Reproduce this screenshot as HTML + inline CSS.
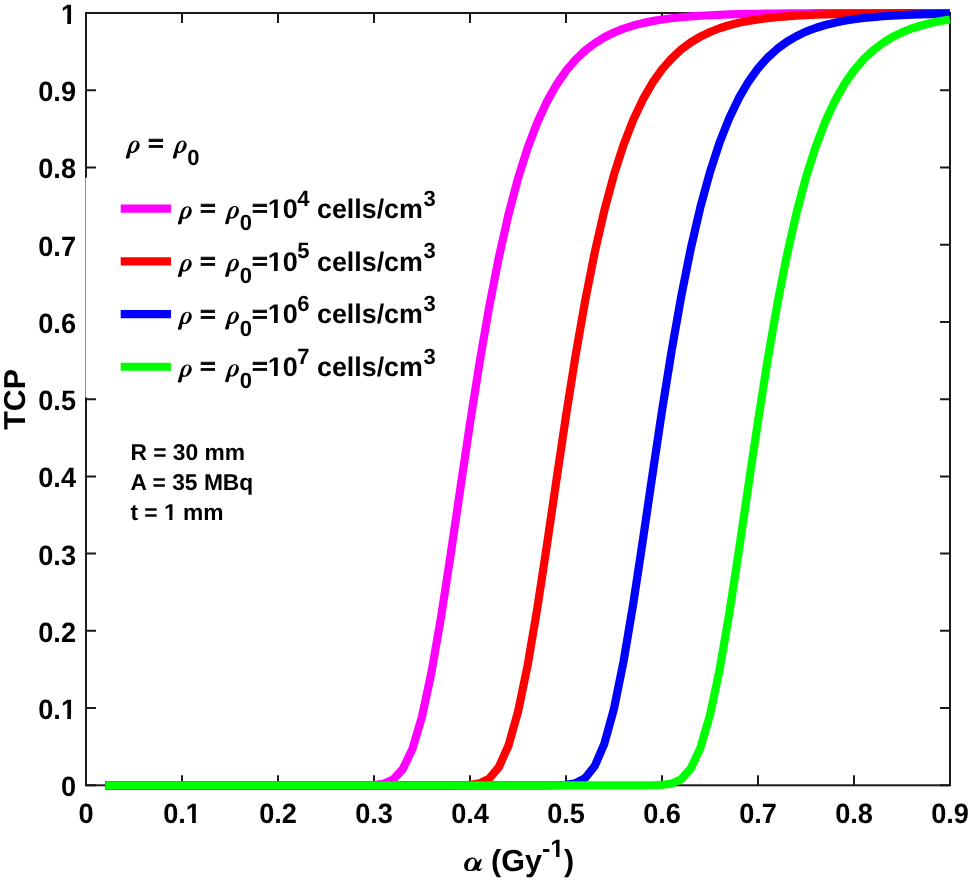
<!DOCTYPE html>
<html><head><meta charset="utf-8"><title>TCP vs alpha</title><style>
html,body{margin:0;padding:0;background:#fff;width:969px;height:882px;overflow:hidden}
svg{display:block;transform:translateZ(0)}
text{text-rendering:geometricPrecision;font-family:"Liberation Sans",sans-serif;font-weight:bold;fill:#000}
</style></head><body>
<svg width="969" height="882" viewBox="0 0 969 882">
<defs><path id="rho" d="M0.1,5.3 Q0.3,6.0 1.4,5.9 L3.0,5.6 Q3.5,5.4 3.7,4.7 L4.5,0.4 C5,0.3 5.8,0.2 6.7,0.2 C10,0.2 13.9,-3.5 13.9,-7.6 C13.9,-10.5 12,-12.2 9.4,-12.2 C6.5,-12.2 4.4,-10 3.5,-7.5 L0,4.6 Z M9.6,-11.3 C11,-11.3 11.3,-10 10.9,-8.4 C10.2,-5 8.5,-1.0 6.5,-1.0 C5.3,-1.0 4.9,-2.5 5.2,-3.6 C5.8,-6.5 7.5,-11.3 9.6,-11.3 Z"/></defs>
<g stroke="#1a1a1a" stroke-width="2" fill="none">
<rect x="86.0" y="13.0" width="864.0" height="772.3"/>
<path d="M86.00 785.3V775.3M86.00 13.0V23.0M182.00 785.3V775.3M182.00 13.0V23.0M278.00 785.3V775.3M278.00 13.0V23.0M374.00 785.3V775.3M374.00 13.0V23.0M470.00 785.3V775.3M470.00 13.0V23.0M566.00 785.3V775.3M566.00 13.0V23.0M662.00 785.3V775.3M662.00 13.0V23.0M758.00 785.3V775.3M758.00 13.0V23.0M854.00 785.3V775.3M854.00 13.0V23.0M950.00 785.3V775.3M950.00 13.0V23.0M86.0 785.30H96.0M950.0 785.30H940.0M86.0 708.07H96.0M950.0 708.07H940.0M86.0 630.84H96.0M950.0 630.84H940.0M86.0 553.61H96.0M950.0 553.61H940.0M86.0 476.38H96.0M950.0 476.38H940.0M86.0 399.15H96.0M950.0 399.15H940.0M86.0 321.92H96.0M950.0 321.92H940.0M86.0 244.69H96.0M950.0 244.69H940.0M86.0 167.46H96.0M950.0 167.46H940.0M86.0 90.23H96.0M950.0 90.23H940.0M86.0 13.00H96.0M950.0 13.00H940.0"/>
</g>
<text transform="translate(86.00 822.90) scale(0.97 1)" x="-7.79" y="0" font-size="28">0</text>
<text transform="translate(182.00 822.90) scale(0.97 1)" x="-19.46" y="0" font-size="28">0.1</text>
<text transform="translate(278.00 822.90) scale(0.97 1)" x="-19.46" y="0" font-size="28">0.2</text>
<text transform="translate(374.00 822.90) scale(0.97 1)" x="-19.46" y="0" font-size="28">0.3</text>
<text transform="translate(470.00 822.90) scale(0.97 1)" x="-19.46" y="0" font-size="28">0.4</text>
<text transform="translate(566.00 822.90) scale(0.97 1)" x="-19.46" y="0" font-size="28">0.5</text>
<text transform="translate(662.00 822.90) scale(0.97 1)" x="-19.46" y="0" font-size="28">0.6</text>
<text transform="translate(758.00 822.90) scale(0.97 1)" x="-19.46" y="0" font-size="28">0.7</text>
<text transform="translate(854.00 822.90) scale(0.97 1)" x="-19.46" y="0" font-size="28">0.8</text>
<text transform="translate(950.00 822.90) scale(0.97 1)" x="-19.46" y="0" font-size="28">0.9</text>
<text transform="translate(76.00 796.30) scale(0.97 1)" x="-15.57" y="0" font-size="28">0</text>
<text transform="translate(76.00 719.07) scale(0.97 1)" x="-38.92" y="0" font-size="28">0.1</text>
<text transform="translate(76.00 641.84) scale(0.97 1)" x="-38.92" y="0" font-size="28">0.2</text>
<text transform="translate(76.00 564.61) scale(0.97 1)" x="-38.92" y="0" font-size="28">0.3</text>
<text transform="translate(76.00 487.38) scale(0.97 1)" x="-38.92" y="0" font-size="28">0.4</text>
<text transform="translate(76.00 410.15) scale(0.97 1)" x="-38.92" y="0" font-size="28">0.5</text>
<text transform="translate(76.00 332.92) scale(0.97 1)" x="-38.92" y="0" font-size="28">0.6</text>
<text transform="translate(76.00 255.69) scale(0.97 1)" x="-38.92" y="0" font-size="28">0.7</text>
<text transform="translate(76.00 178.46) scale(0.97 1)" x="-38.92" y="0" font-size="28">0.8</text>
<text transform="translate(76.00 101.23) scale(0.97 1)" x="-38.92" y="0" font-size="28">0.9</text>
<text transform="translate(76.00 24.00) scale(0.97 1)" x="-15.57" y="0" font-size="28">1</text>
<rect x="85.5" y="177.7" width="358.5" height="219.8" fill="#fff"/>
<polyline points="105.20,785.30 114.80,785.30 124.40,785.30 134.00,785.30 143.60,785.30 153.20,785.30 162.80,785.30 172.40,785.30 182.00,785.30 191.60,785.30 201.20,785.30 210.80,785.30 220.40,785.30 230.00,785.30 239.60,785.30 249.20,785.30 258.80,785.30 268.40,785.30 278.00,785.30 287.60,785.30 297.20,785.30 306.80,785.30 316.40,785.30 326.00,785.30 335.60,785.30 345.20,785.30 354.80,785.30 364.40,785.26 374.00,784.99 383.60,783.71 393.20,779.48 402.80,769.10 412.40,748.97 422.00,716.58 431.60,671.63 441.20,616.12 450.80,553.61 460.40,488.17 470.00,423.51 479.60,362.46 489.20,306.83 498.80,257.56 508.40,214.89 518.00,178.56 527.60,148.06 537.20,122.73 546.80,101.87 556.40,84.80 566.00,70.90 575.60,59.63 585.20,50.51 594.80,43.16 604.40,37.24 614.00,32.48 623.60,28.65 633.20,25.58 642.80,23.11 652.40,21.13 662.00,19.54 671.60,18.26 681.20,17.24 690.80,16.41 700.40,15.75 710.00,15.22 719.60,14.79 729.20,14.44 738.80,14.16 748.40,13.94 758.00,13.76 767.60,13.62 777.20,13.50 786.80,13.40 796.40,13.33 806.00,13.26 815.60,13.21 825.20,13.17 834.80,13.14 844.40,13.12 854.00,13.09 863.60,13.08 873.20,13.06 882.80,13.05 892.40,13.04 902.00,13.03 911.60,13.03 921.20,13.02 930.80,13.02 940.40,13.01 950.00,13.01" fill="none" stroke="#ff00ff" stroke-width="8.2" stroke-linejoin="round"/>
<polyline points="105.20,785.30 114.80,785.30 124.40,785.30 134.00,785.30 143.60,785.30 153.20,785.30 162.80,785.30 172.40,785.30 182.00,785.30 191.60,785.30 201.20,785.30 210.80,785.30 220.40,785.30 230.00,785.30 239.60,785.30 249.20,785.30 258.80,785.30 268.40,785.30 278.00,785.30 287.60,785.30 297.20,785.30 306.80,785.30 316.40,785.30 326.00,785.30 335.60,785.30 345.20,785.30 354.80,785.30 364.40,785.30 374.00,785.30 383.60,785.30 393.20,785.30 402.80,785.30 412.40,785.30 422.00,785.30 431.60,785.30 441.20,785.30 450.80,785.30 460.40,785.25 470.00,784.92 479.60,783.41 489.20,778.63 498.80,767.26 508.40,745.76 518.00,711.83 527.60,665.47 537.20,608.91 546.80,545.83 556.40,480.31 566.00,415.95 575.60,355.47 585.20,300.57 594.80,252.09 604.40,210.20 614.00,174.61 623.60,144.76 633.20,120.01 642.80,99.63 652.40,82.97 662.00,69.42 671.60,58.43 681.20,49.55 690.80,42.38 700.40,36.62 710.00,31.98 719.60,28.25 729.20,25.25 738.80,22.85 748.40,20.92 758.00,19.37 767.60,18.13 777.20,17.13 786.80,16.32 796.40,15.68 806.00,15.16 815.60,14.74 825.20,14.41 834.80,14.13 844.40,13.92 854.00,13.74 863.60,13.60 873.20,13.49 882.80,13.39 892.40,13.32 902.00,13.26 911.60,13.21 921.20,13.17 930.80,13.14 940.40,13.11 950.00,13.09" fill="none" stroke="#ff0000" stroke-width="8.2" stroke-linejoin="round"/>
<polyline points="105.20,785.30 114.80,785.30 124.40,785.30 134.00,785.30 143.60,785.30 153.20,785.30 162.80,785.30 172.40,785.30 182.00,785.30 191.60,785.30 201.20,785.30 210.80,785.30 220.40,785.30 230.00,785.30 239.60,785.30 249.20,785.30 258.80,785.30 268.40,785.30 278.00,785.30 287.60,785.30 297.20,785.30 306.80,785.30 316.40,785.30 326.00,785.30 335.60,785.30 345.20,785.30 354.80,785.30 364.40,785.30 374.00,785.30 383.60,785.30 393.20,785.30 402.80,785.30 412.40,785.30 422.00,785.30 431.60,785.30 441.20,785.30 450.80,785.30 460.40,785.30 470.00,785.30 479.60,785.30 489.20,785.30 498.80,785.30 508.40,785.30 518.00,785.30 527.60,785.30 537.20,785.30 546.80,785.30 556.40,785.24 566.00,784.86 575.60,783.19 585.20,778.01 594.80,765.96 604.40,743.52 614.00,708.57 623.60,661.28 633.20,604.05 642.80,540.63 652.40,475.08 662.00,410.94 671.60,350.85 681.20,296.45 690.80,248.50 700.40,207.13 710.00,172.02 719.60,142.61 729.20,118.22 738.80,98.17 748.40,81.78 758.00,68.45 767.60,57.65 777.20,48.91 786.80,41.87 796.40,36.21 806.00,31.65 815.60,27.98 825.20,25.04 834.80,22.68 844.40,20.78 854.00,19.26 863.60,18.04 873.20,17.06 882.80,16.27 892.40,15.63 902.00,15.12 911.60,14.71 921.20,14.38 930.80,14.12 940.40,13.90 950.00,13.73" fill="none" stroke="#0000ff" stroke-width="8.2" stroke-linejoin="round"/>
<polyline points="105.20,785.30 114.80,785.30 124.40,785.30 134.00,785.30 143.60,785.30 153.20,785.30 162.80,785.30 172.40,785.30 182.00,785.30 191.60,785.30 201.20,785.30 210.80,785.30 220.40,785.30 230.00,785.30 239.60,785.30 249.20,785.30 258.80,785.30 268.40,785.30 278.00,785.30 287.60,785.30 297.20,785.30 306.80,785.30 316.40,785.30 326.00,785.30 335.60,785.30 345.20,785.30 354.80,785.30 364.40,785.30 374.00,785.30 383.60,785.30 393.20,785.30 402.80,785.30 412.40,785.30 422.00,785.30 431.60,785.30 441.20,785.30 450.80,785.30 460.40,785.30 470.00,785.30 479.60,785.30 489.20,785.30 498.80,785.30 508.40,785.30 518.00,785.30 527.60,785.30 537.20,785.30 546.80,785.30 556.40,785.30 566.00,785.30 575.60,785.30 585.20,785.30 594.80,785.30 604.40,785.30 614.00,785.30 623.60,785.30 633.20,785.30 642.80,785.30 652.40,785.26 662.00,784.97 671.60,783.62 681.20,779.21 690.80,768.50 700.40,747.92 710.00,715.02 719.60,669.59 729.20,613.72 738.80,551.02 748.40,485.55 758.00,420.99 767.60,360.12 777.20,304.73 786.80,255.73 796.40,213.31 806.00,177.23 815.60,146.96 825.20,121.82 834.80,101.12 844.40,84.18 854.00,70.40 863.60,59.22 873.20,50.19 882.80,42.90 892.40,37.03 902.00,32.31 911.60,28.52 921.20,25.47 930.80,23.02 940.40,21.06 950.00,19.48" fill="none" stroke="#00ff00" stroke-width="8.2" stroke-linejoin="round"/>
<use href="#rho" x="125.80" y="152.70"/>
<text transform="translate(147.90 151.09) scale(1 0.841)" x="0" y="0" font-size="27" stroke="#000" stroke-width="0.8">=</text>
<use href="#rho" x="172.80" y="152.70"/>
<text x="187.20" y="165.00" font-size="22">0</text>
<line x1="120.7" y1="208.65" x2="171" y2="208.65" stroke="#ff00ff" stroke-width="8.2"/>
<use href="#rho" x="177.90" y="218.50"/>
<text transform="translate(200.00 216.19) scale(1 0.841)" x="0" y="0" font-size="27" stroke="#000" stroke-width="0.8">=</text>
<use href="#rho" x="225.10" y="218.30"/>
<text x="239.70" y="230.10" font-size="22">0</text>
<text transform="translate(251.90 216.19) scale(1 0.841)" x="0" y="0" font-size="27" stroke="#000" stroke-width="0.8">=</text>
<text x="267.67" y="217.80" font-size="27">10</text>
<text x="297.20" y="205.70" font-size="22">4</text>
<text transform="translate(317.00 217.80) scale(0.993 1)" x="0.00" y="0" font-size="27">cells/cm</text>
<text x="423.50" y="205.70" font-size="22">3</text>
<line x1="120.7" y1="261.35" x2="171" y2="261.35" stroke="#ff0000" stroke-width="8.2"/>
<use href="#rho" x="177.90" y="271.20"/>
<text transform="translate(200.00 268.89) scale(1 0.841)" x="0" y="0" font-size="27" stroke="#000" stroke-width="0.8">=</text>
<use href="#rho" x="225.10" y="271.00"/>
<text x="239.70" y="282.80" font-size="22">0</text>
<text transform="translate(251.90 268.89) scale(1 0.841)" x="0" y="0" font-size="27" stroke="#000" stroke-width="0.8">=</text>
<text x="267.67" y="270.50" font-size="27">10</text>
<text x="297.20" y="258.40" font-size="22">5</text>
<text transform="translate(317.00 270.50) scale(0.993 1)" x="0.00" y="0" font-size="27">cells/cm</text>
<text x="423.50" y="258.40" font-size="22">3</text>
<line x1="120.7" y1="314.05" x2="171" y2="314.05" stroke="#0000ff" stroke-width="8.2"/>
<use href="#rho" x="177.90" y="323.90"/>
<text transform="translate(200.00 321.59) scale(1 0.841)" x="0" y="0" font-size="27" stroke="#000" stroke-width="0.8">=</text>
<use href="#rho" x="225.10" y="323.70"/>
<text x="239.70" y="335.50" font-size="22">0</text>
<text transform="translate(251.90 321.59) scale(1 0.841)" x="0" y="0" font-size="27" stroke="#000" stroke-width="0.8">=</text>
<text x="267.67" y="323.20" font-size="27">10</text>
<text x="297.20" y="311.10" font-size="22">6</text>
<text transform="translate(317.00 323.20) scale(0.993 1)" x="0.00" y="0" font-size="27">cells/cm</text>
<text x="423.50" y="311.10" font-size="22">3</text>
<line x1="120.7" y1="366.75" x2="171" y2="366.75" stroke="#00ff00" stroke-width="8.2"/>
<use href="#rho" x="177.90" y="376.60"/>
<text transform="translate(200.00 374.29) scale(1 0.841)" x="0" y="0" font-size="27" stroke="#000" stroke-width="0.8">=</text>
<use href="#rho" x="225.10" y="376.40"/>
<text x="239.70" y="388.20" font-size="22">0</text>
<text transform="translate(251.90 374.29) scale(1 0.841)" x="0" y="0" font-size="27" stroke="#000" stroke-width="0.8">=</text>
<text x="267.67" y="375.90" font-size="27">10</text>
<text x="297.20" y="363.80" font-size="22">7</text>
<text transform="translate(317.00 375.90) scale(0.993 1)" x="0.00" y="0" font-size="27">cells/cm</text>
<text x="423.50" y="363.80" font-size="22">3</text>
<text x="130.40" y="460.40" font-size="22.8">R = 30 mm</text>
<text x="130.60" y="490.00" font-size="22.8">A = 35 MBq</text>
<text x="130.40" y="519.60" font-size="22.8">t = 1 mm</text>
<path fill-rule="evenodd" d="M464.1,865.8 C464.1,861.5 467.8,857.5 472.3,857.5 C475,857.5 476.8,859.3 477.9,862.6 L480.2,859.0 L481.9,859.4 L478.9,867.6 C478.6,868.8 479.2,869.4 480.2,869.0 L481.6,868.2 L482.0,868.8 C481,870.3 479.8,871.1 478.4,871.1 C477.3,871.1 476.8,870.5 476.7,869.6 C475,870.6 472.3,871.1 469.2,871.1 C466,871.1 464.1,869.2 464.1,865.8 Z M472.9,858.8 C474.3,858.8 475,860.1 474.9,862.5 C474.8,865.5 472.6,870 469.8,870 C468.5,870 467.8,868.8 467.9,866.3 C468.2,862.2 470.6,858.8 472.9,858.8 Z"/>
<text x="491.00" y="870.70" font-size="30.5">(Gy</text>
<text x="541.90" y="856.60" font-size="25">-1</text>
<text x="564.10" y="870.70" font-size="30.5">)</text>
<text transform="translate(25.1 399.45) rotate(-90)" x="-30.30" y="0" font-size="30.3">TCP</text>
<g fill="#fff">
<rect x="186.56" y="819.34" width="5.56" height="4.46"/>
<rect x="195.84" y="819.34" width="5.21" height="4.46"/>
<rect x="61.68" y="715.51" width="5.56" height="4.46"/>
<rect x="70.96" y="715.51" width="5.21" height="4.46"/>
<rect x="61.68" y="20.44" width="5.56" height="4.46"/>
<rect x="70.96" y="20.44" width="5.21" height="4.46"/>
<rect x="268.45" y="214.34" width="5.52" height="4.36"/>
<rect x="277.67" y="214.34" width="5.18" height="4.36"/>
<rect x="268.45" y="267.04" width="5.52" height="4.36"/>
<rect x="277.67" y="267.04" width="5.18" height="4.36"/>
<rect x="268.45" y="319.74" width="5.52" height="4.36"/>
<rect x="277.67" y="319.74" width="5.18" height="4.36"/>
<rect x="268.45" y="372.44" width="5.52" height="4.36"/>
<rect x="277.67" y="372.44" width="5.18" height="4.36"/>
<rect x="164.63" y="516.57" width="4.66" height="3.93"/>
<rect x="172.43" y="516.57" width="4.38" height="3.93"/>
<rect x="550.95" y="853.35" width="5.11" height="4.15"/>
<rect x="559.49" y="853.35" width="4.80" height="4.15"/>
</g>
</svg>
</body></html>
